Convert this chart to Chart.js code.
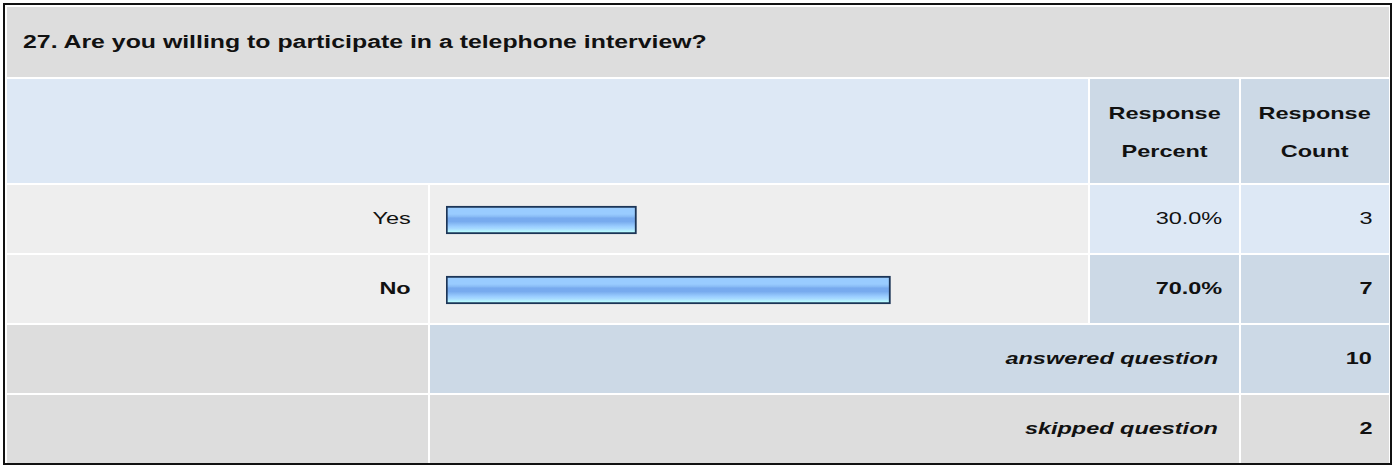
<!DOCTYPE html>
<html>
<head>
<meta charset="utf-8">
<script src="https://cdn.jsdelivr.net/npm/chart.js@4"></script>
<style>
body { margin: 0; background: #fff; font-family: "Liberation Sans", Arial, sans-serif; color: #111; }
#box { position: absolute; left: 3px; top: 3px; width: 1385px; height: 458px; border: 2px solid #111; background: #fff; }
.c { position: absolute; box-sizing: border-box; display: flex; align-items: center; font-size: 17px; }
.c span { display: inline-block; transform: scaleX(1.38); transform-origin: right center; white-space: nowrap; }
.r { justify-content: flex-end; padding-right: 17px; }
.b { font-weight: bold; }
.i { font-style: italic; font-weight: bold; padding-right: 21px; }
.hd { justify-content: center; text-align: center; font-weight: bold; line-height: 38px; padding-top: 4px; }
.hd span { transform-origin: center center; }
#title { font-size: 18px; font-weight: bold; padding-left: 16px; padding-top: 1px; }
#title span { transform-origin: left center; }
#chartBox { position: absolute; left: 430px; top: 185px; width: 658px; height: 140px; }
</style>
</head>
<body>
<div id="box"></div>
<div id="cells"></div>
<div id="chartBox"><canvas id="bars" width="658" height="140"></canvas></div>
<script>
// survey question 27
const question = '27. Are you willing to participate in a telephone interview?';
const categories = ['Yes', 'No'];
const percents = [30.0, 70.0];
const counts = [3, 7];
const answered = 10;
const skipped = 2;

const GRAY = '#dddddd', LIGHT = '#eeeeee', BLUE1 = '#dde8f5', BLUE2 = '#ccd9e6';

const cells = document.getElementById('cells');
function cell(x, y, w, h, bg, cls, text, id) {
    const d = document.createElement('div');
    d.className = 'c ' + (cls || '');
    if (id) d.id = id;
    d.style.cssText = `left:${x}px;top:${y}px;width:${w}px;height:${h}px;background:${bg}`;
    if (text !== undefined) d.innerHTML = '<span>' + text + '</span>';
    cells.appendChild(d);
}

cell(7, 7, 1382, 70, GRAY, '', question, 'title');
cell(7, 79, 1081, 104, BLUE1);
cell(1090, 79, 149, 104, BLUE2, 'hd', 'Response<br>Percent');
cell(1241, 79, 148, 104, BLUE2, 'hd', 'Response<br>Count');

const top0 = 185, rowH = 68, gap = 2;
const maxCount = Math.max(...counts);
categories.forEach((cat, i) => {
    const y = top0 + i * (rowH + gap);
    const strong = counts[i] === maxCount;
    const bg = strong ? BLUE2 : BLUE1;
    const cls = 'r' + (strong ? ' b' : '');
    cell(7, y, 421, rowH, LIGHT, cls, cat);
    cell(430, y, 658, rowH, LIGHT);
    cell(1090, y, 149, rowH, bg, cls, percents[i].toFixed(1) + '%');
    cell(1241, y, 148, rowH, bg, cls, String(counts[i]));
});

let y = top0 + categories.length * (rowH + gap);
cell(7, y, 421, rowH, GRAY);
cell(430, y, 809, rowH, BLUE2, 'r i', 'answered question');
cell(1241, y, 148, rowH, BLUE2, 'r b', String(answered));
y += rowH + gap;
cell(7, y, 421, rowH, GRAY);
cell(430, y, 809, rowH, GRAY, 'r i', 'skipped question');
cell(1241, y, 148, rowH, GRAY, 'r b', String(skipped));

// striped blue fill, one gradient per bar
function barFill(ctx) {
    const ys = ctx.chart.scales.y;
    if (ctx.type !== 'data' || !ys) return '#8cc0fa';
    const mid = ys.getPixelForValue(ctx.dataIndex);
    if (!isFinite(mid)) return '#8cc0fa';
    const g = ctx.chart.ctx.createLinearGradient(0, mid - 12, 0, mid + 12);
    g.addColorStop(0, '#99ccff');
    g.addColorStop(0.25, '#99ccff');
    g.addColorStop(0.36, '#88bbf5');
    g.addColorStop(0.42, '#77aaee');
    g.addColorStop(0.56, '#77aaee');
    g.addColorStop(0.66, '#88bbf5');
    g.addColorStop(0.76, '#99ccff');
    g.addColorStop(0.88, '#aaddff');
    g.addColorStop(1, '#bbffff');
    return g;
}

new Chart(document.getElementById('bars'), {
    type: 'bar',
    data: {
        labels: categories,
        datasets: [{
            data: percents,
            backgroundColor: barFill,
            borderColor: '#1c3557',
            borderWidth: 2,
            borderSkipped: false,
            barThickness: 28
        }]
    },
    options: {
        indexAxis: 'y',
        responsive: false,
        animation: false,
        layout: { padding: { left: 16, right: 7, top: 0, bottom: 0 } },
        plugins: { legend: { display: false }, tooltip: { enabled: false } },
        scales: {
            x: { display: false, min: 0, max: 100 },
            y: { display: false }
        }
    }
});
</script>
</body>
</html>
